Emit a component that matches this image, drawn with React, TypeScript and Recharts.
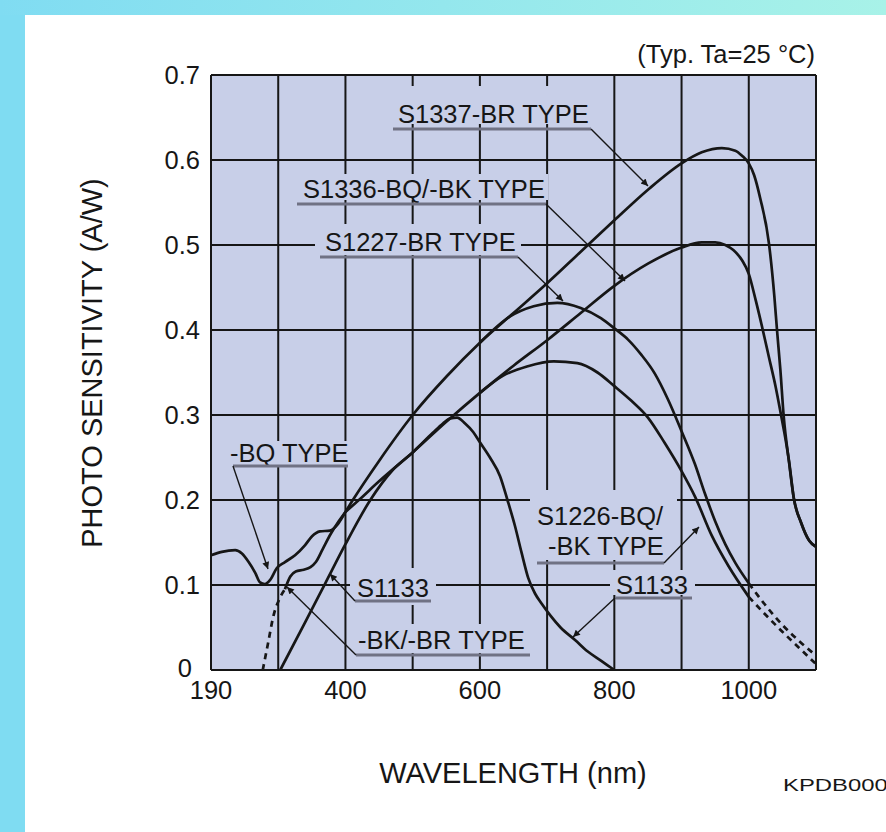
import React from 'react';
import { LineChart, Line, XAxis, YAxis, CartesianGrid } from 'recharts';

type Pt = [number, number];

// axis ticks (wavelength in nm, sensitivity in A/W)
const X_TICKS = [200, 300, 400, 500, 600, 700, 800, 900, 1000, 1100];
const X_TICK_TEXT: Record<number, string> = { 200: '190', 400: '400', 600: '600', 800: '800', 1000: '1000' };
const Y_TICKS = [0, 0.1, 0.2, 0.3, 0.4, 0.5, 0.6, 0.7];

// UV part of the quartz window (-BQ) types
const BQ_UV: Pt[] = [
  [200, 0.135], [216, 0.139], [236, 0.141], [246, 0.137], [256, 0.127], [266, 0.114], [273, 0.103],
  [280, 0.101], [288, 0.106], [298, 0.12], [310, 0.127], [325, 0.135], [340, 0.147], [350, 0.157],
  [362, 0.163], [377, 0.164], [389, 0.172], [400, 0.186],
];
// -BK/-BR window cut-off (dashed) and UV part
const BK_CUTOFF: Pt[] = [[277, 0], [285, 0.032], [293, 0.064], [302, 0.084], [310, 0.095]];
const BK_UV: Pt[] = [
  [310, 0.095], [318, 0.11], [326, 0.116], [338, 0.118], [348, 0.121], [356, 0.127], [366, 0.142],
  [378, 0.16], [390, 0.175], [400, 0.186],
];
const S1337: Pt[] = [
  [400, 0.186], [411, 0.2], [450, 0.246], [500, 0.3], [550, 0.345], [600, 0.385], [650, 0.42],
  [700, 0.455], [750, 0.492], [800, 0.529], [850, 0.565], [900, 0.596], [930, 0.609], [960, 0.614],
  [980, 0.611], [990, 0.605], [1000, 0.596], [1008, 0.582], [1017, 0.555], [1030, 0.502], [1038, 0.44],
  [1042, 0.4], [1047, 0.353], [1052, 0.298], [1060, 0.244], [1067, 0.202], [1078, 0.173], [1090, 0.152],
  [1100, 0.145],
];
const S1336: Pt[] = [
  [400, 0.186], [420, 0.2], [450, 0.222], [500, 0.256], [550, 0.292], [600, 0.326], [650, 0.358],
  [700, 0.388], [750, 0.42], [800, 0.452], [850, 0.478], [900, 0.497], [930, 0.503], [950, 0.503],
  [965, 0.5], [977, 0.494], [990, 0.482], [1000, 0.466], [1010, 0.436], [1020, 0.403], [1030, 0.368],
  [1040, 0.333], [1048, 0.3], [1055, 0.27], [1060, 0.245], [1067, 0.202], [1078, 0.173], [1090, 0.152],
  [1100, 0.145],
];
const S1227: Pt[] = [
  [600, 0.385], [645, 0.416], [680, 0.428], [715, 0.432], [750, 0.426], [780, 0.414], [800, 0.402],
  [820, 0.389], [840, 0.371], [860, 0.349], [880, 0.318], [900, 0.281], [920, 0.242], [935, 0.207],
  [950, 0.175], [965, 0.148], [980, 0.126], [1000, 0.102],
];
const S1226: Pt[] = [
  [600, 0.326], [634, 0.346], [670, 0.357], [710, 0.363], [745, 0.361], [775, 0.35], [800, 0.334],
  [825, 0.317], [850, 0.297], [875, 0.267], [900, 0.234], [920, 0.204], [945, 0.158], [970, 0.122],
  [1000, 0.086],
];
const S1227_TAIL: Pt[] = [[1000, 0.102], [1025, 0.076], [1050, 0.053], [1075, 0.034], [1100, 0.017]];
const S1226_TAIL: Pt[] = [[1000, 0.086], [1025, 0.065], [1050, 0.045], [1075, 0.026], [1100, 0.007]];
const S1133: Pt[] = [
  [303, 0], [340, 0.056], [370, 0.102], [400, 0.148], [437, 0.2], [470, 0.235], [500, 0.256],
  [530, 0.279], [545, 0.29], [556, 0.296], [566, 0.297], [578, 0.29], [590, 0.28], [600, 0.268],
  [615, 0.25], [630, 0.228], [641, 0.2], [652, 0.17], [662, 0.138], [672, 0.108], [682, 0.09],
  [692, 0.078], [705, 0.064], [720, 0.05], [742, 0.035], [760, 0.022], [780, 0.011], [800, 0],
];

const rows = (pts: Pt[]) => pts.map(([nm, v]) => ({ nm, v }));

const FONT = "'Liberation Sans', Arial, Helvetica, sans-serif";
const INK = '#161616';
const PLOT_BG = '#c8cfe8';
const UNDERLINE = '#707284';

const XTick = (props: any) => {
  const { x, y, payload } = props;
  return (
    <text x={x} y={y} dy={18} textAnchor="middle" fontSize={25.5} fontFamily={FONT} fill={INK}>
      {X_TICK_TEXT[payload.value] ?? ''}
    </text>
  );
};

const YTick = (props: any) => {
  const { x, y, payload } = props;
  // the zero label sits a little left so it clears the first wavelength label
  const zero = payload.value === 0;
  return (
    <text x={zero ? x - 8 : x} y={y} dy={zero ? 7 : 9} textAnchor="end" fontSize={25.5} fontFamily={FONT} fill={INK}>
      {zero ? '0' : payload.value.toFixed(1)}
    </text>
  );
};

// curve labels: background patch over the grid, text, grey underline, leader with arrow
const Note = ({ lines, x, y, w, h, ul, lead }: {
  lines: { text: string; x: number; y: number }[];
  x: number; y: number; w: number; h: number;
  ul: [number, number, number];
  lead: [number, number, number, number];
}) => (
  <g>
    <rect x={x} y={y} width={w} height={h} fill={PLOT_BG} />
    {lines.map((l) => (
      <text key={l.text} x={l.x} y={l.y} fontSize={25.5} fontFamily={FONT} fill={INK}>{l.text}</text>
    ))}
    <line x1={ul[0]} x2={ul[1]} y1={ul[2]} y2={ul[2]} stroke={UNDERLINE} strokeWidth={3} />
    <line x1={lead[0]} y1={lead[1]} x2={lead[2]} y2={lead[3]} stroke={INK} strokeWidth={1.4} markerEnd="url(#tip)" />
  </g>
);

const Notes = () => (
  <g>
    <defs>
      <marker id="tip" viewBox="0 0 10 10" refX="10" refY="5" markerWidth="11" markerHeight="7" orient="auto" markerUnits="userSpaceOnUse">
        <path d="M0,0 L10,5 L0,10 z" fill={INK} />
      </marker>
    </defs>
    <Note lines={[{ text: 'S1337-BR TYPE', x: 398, y: 123 }]} x={394} y={86} w={201} h={38} ul={[393, 591, 129]} lead={[591, 129, 648, 186]} />
    <Note lines={[{ text: 'S1336-BQ/-BK TYPE', x: 303, y: 198 }]} x={298} y={174} w={250} h={26} ul={[297, 546, 204]} lead={[546, 204, 625, 281]} />
    <Note lines={[{ text: 'S1227-BR TYPE', x: 325, y: 251 }]} x={315} y={224} w={206} h={31} ul={[320, 518, 257]} lead={[518, 257, 563, 301]} />
    <Note lines={[{ text: '-BQ TYPE', x: 230, y: 462 }]} x={228} y={441} w={122} h={24} ul={[233, 348, 466]} lead={[233, 466, 268, 569]} />
    <Note lines={[{ text: 'S1133', x: 357, y: 597 }]} x={350} y={568} w={86} h={37} ul={[355, 431, 601]} lead={[355, 601, 330, 574]} />
    <Note lines={[{ text: '-BK/-BR TYPE', x: 358, y: 649 }]} x={352} y={624} w={178} h={29} ul={[356, 530, 655]} lead={[356, 655, 287, 587]} />
    <Note
      lines={[{ text: 'S1226-BQ/', x: 537, y: 525 }, { text: '-BK TYPE', x: 548, y: 555 }]}
      x={530} y={490} w={147} h={70} ul={[537, 664, 563]} lead={[664, 563, 699, 527]}
    />
    <Note lines={[{ text: 'S1133', x: 616, y: 594 }]} x={610} y={570} w={85} h={25} ul={[615, 692, 598]} lead={[615, 598, 573, 637]} />
  </g>
);

const Titles = () => (
  <g fontFamily={FONT} fill={INK}>
    <text x={815} y={63} textAnchor="end" fontSize={25.5}>(Typ. Ta=25 °C)</text>
    <text x={513} y={783} textAnchor="middle" fontSize={29}>WAVELENGTH (nm)</text>
    <text transform="translate(102,363) rotate(-90)" textAnchor="middle" fontSize={29}>PHOTO SENSITIVITY (A/W)</text>
    <text x={783} y={791} fontSize={16} textLength={118} lengthAdjust="spacingAndGlyphs">KPDB0003</text>
  </g>
);

const curve = (pts: Pt[], key: string, dashed = false) => (
  <Line
    key={key}
    data={rows(pts)}
    dataKey="v"
    type="monotone"
    stroke={INK}
    strokeWidth={2.7}
    strokeDasharray={dashed ? '6 5' : undefined}
    dot={false}
    activeDot={false}
    isAnimationActive={false}
  />
);

export default function App() {
  return (
    <div style={{ position: 'fixed', left: 0, top: 0, width: 886, height: 832, background: '#ffffff', overflow: 'hidden' }}>
      <div style={{ position: 'absolute', left: 0, top: 0, width: 25, height: 832, background: '#7fdcf2' }} />
      <div style={{ position: 'absolute', left: 0, top: 0, width: 886, height: 15, background: 'linear-gradient(to right, #80dcf2, #a8f2e8)' }} />
      <div style={{ position: 'absolute', left: 0, top: 0 }}>
        <LineChart width={886} height={832} margin={{ top: 75, right: 70, bottom: 122, left: 151 }}>
          <CartesianGrid fill={PLOT_BG} fillOpacity={1} stroke={INK} strokeWidth={2} />
          <XAxis
            type="number"
            dataKey="nm"
            domain={[200, 1100]}
            ticks={X_TICKS}
            tick={XTick}
            tickSize={0}
            tickMargin={11}
            height={40}
            axisLine={{ stroke: INK, strokeWidth: 2 }}
            allowDuplicatedCategory={false}
          />
          <YAxis
            type="number"
            domain={[0, 0.7]}
            ticks={Y_TICKS}
            tick={YTick}
            tickSize={0}
            tickMargin={11}
            width={60}
            axisLine={{ stroke: INK, strokeWidth: 2 }}
          />
          <Notes />
          {curve(BQ_UV, 'bq')}
          {curve(BK_CUTOFF, 'bkc', true)}
          {curve(BK_UV, 'bk')}
          {curve(S1133, 's1133')}
          {curve(S1337, 's1337')}
          {curve(S1336, 's1336')}
          {curve(S1227, 's1227')}
          {curve(S1226, 's1226')}
          {curve(S1227_TAIL, 's1227t', true)}
          {curve(S1226_TAIL, 's1226t', true)}
          <Titles />
        </LineChart>
      </div>
    </div>
  );
}
